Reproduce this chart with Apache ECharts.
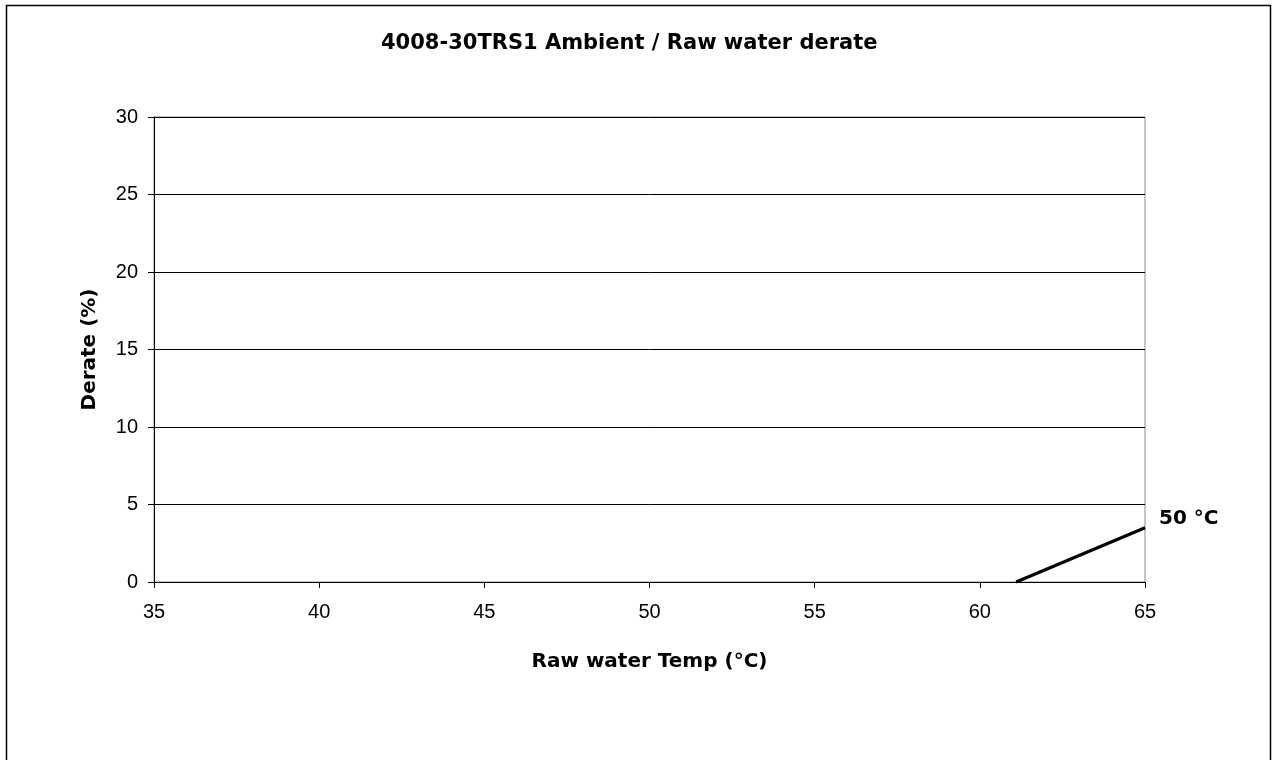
<!DOCTYPE html>
<html><head><meta charset="utf-8">
<script src="https://cdn.jsdelivr.net/npm/echarts@6/dist/echarts.min.js"></script>
<style>html,body{margin:0;padding:0;background:#fff}#c{width:1273px;height:760px}</style>
</head><body><div id="c"></div>
<script>
const titleText = '4008-30TRS1 Ambient / Raw water derate';
const xName = 'Raw water Temp (°C)';
const yName = 'Derate (%)';
const seriesName = '50 °C';
const tempValues = [61.1, 65];
const derateValues = [0, 3.5];

const chart = echarts.init(document.getElementById('c'), null, {renderer: 'canvas'});
const font = 'Liberation Sans, Arial, sans-serif';
const boldFont = 'DejaVu Sans, Liberation Sans, sans-serif';
chart.setOption({
  backgroundColor: '#fff',
  animation: false,
  title: {
    text: titleText, left: 376, top: 28,
    textStyle: {fontFamily: boldFont, fontSize: 21, fontWeight: 'bold', color: '#000'}
  },
  graphic: [{
    type: 'rect', silent: true, z: -1,
    shape: {x: 6.5, y: 5.5, width: 1264, height: 800},
    style: {fill: 'none', stroke: '#000', lineWidth: 1.5}
  }],
  grid: {left: 154, top: 117, width: 991, height: 465, show: true, borderColor: '#888', borderWidth: 1, backgroundColor: 'transparent'},
  xAxis: {
    type: 'value', min: 35, max: 65, interval: 5,
    name: xName, nameLocation: 'middle', nameGap: 70,
    nameTextStyle: {fontFamily: boldFont, fontSize: 20, fontWeight: 'bold', color: '#000'},
    axisLine: {show: true, lineStyle: {color: '#000', width: 1}},
    axisTick: {show: true, inside: false, length: 6, lineStyle: {color: '#000'}},
    axisLabel: {fontFamily: font, fontSize: 20, color: '#000', margin: 20},
    splitLine: {show: false}
  },
  yAxis: {
    type: 'value', min: 0, max: 30, interval: 5,
    name: yName, nameLocation: 'middle', nameGap: 54, nameRotate: 90,
    nameTextStyle: {fontFamily: boldFont, fontSize: 20, fontWeight: 'bold', color: '#000'},
    axisLine: {show: true, lineStyle: {color: '#000', width: 1}},
    axisTick: {show: true, inside: false, length: 6, lineStyle: {color: '#000'}},
    axisLabel: {fontFamily: font, fontSize: 20, color: '#000', margin: 16},
    splitLine: {show: true, lineStyle: {color: '#000', width: 1}}
  },
  series: [{
    name: seriesName, type: 'line',
    data: tempValues.map((t, i) => [t, derateValues[i]]),
    symbol: 'none', clip: false,
    lineStyle: {color: '#000', width: 3},
    endLabel: {show: true, formatter: seriesName, fontFamily: boldFont, fontSize: 20, fontWeight: 'bold', color: '#000', distance: 14, offset: [0, -9]}
  }]
});
</script></body></html>
